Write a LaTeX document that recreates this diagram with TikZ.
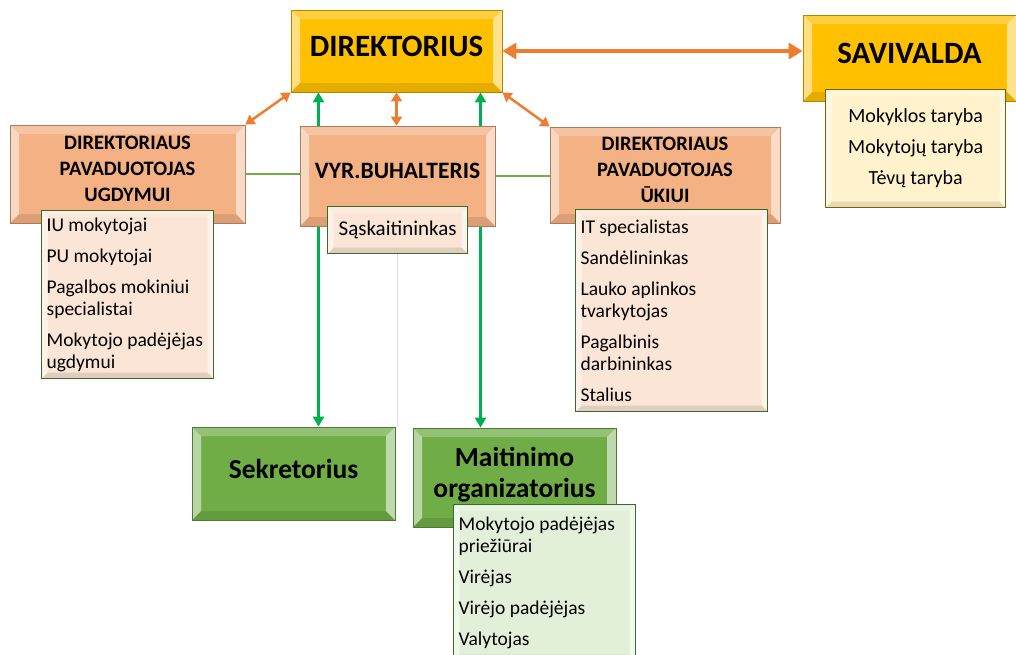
\documentclass[tikz,border=0pt]{standalone}
\usepackage{fontspec}
\setmainfont{Carlito}
\usetikzlibrary{arrows.meta, backgrounds}
\definecolor{dirgold}{HTML}{FFC000}
\definecolor{salmon}{HTML}{F4B183}
\definecolor{peach}{HTML}{FBE5D6}
\definecolor{leafgreen}{HTML}{70AD47}
\definecolor{mint}{HTML}{E2F0D9}
\definecolor{cream}{HTML}{FFF2CC}
\definecolor{listgreen}{HTML}{3A6B24}
\definecolor{olive}{HTML}{7F6000}
\definecolor{arrorange}{HTML}{ED7D31}
\definecolor{arrgreen}{HTML}{00B050}
\tikzset{
	bevel/.style = {path picture={
		\fill[white, fill opacity=0.5] (path picture bounding box.north west) -- ([shift={(#1,-#1)}]path picture bounding box.north west) -- ([shift={(#1,#1)}]path picture bounding box.south west) -- (path picture bounding box.south west) -- cycle;
		\fill[white, fill opacity=0.55] (path picture bounding box.north east) -- ([shift={(-#1,-#1)}]path picture bounding box.north east) -- ([shift={(-#1,#1)}]path picture bounding box.south east) -- (path picture bounding box.south east) -- cycle;
		\fill[white, fill opacity=0.25] (path picture bounding box.north west) -- ([shift={(#1,-#1)}]path picture bounding box.north west) -- ([shift={(-#1,-#1)}]path picture bounding box.north east) -- (path picture bounding box.north east) -- cycle;
		\fill[black, fill opacity=0.1] (path picture bounding box.south west) -- ([shift={(#1,#1)}]path picture bounding box.south west) -- ([shift={(-#1,#1)}]path picture bounding box.south east) -- (path picture bounding box.south east) -- cycle;
	}},
	bevel/.default = 9pt,
	unitbox/.style = {draw, line width=0.8pt, inner sep=2pt, align=center, text depth=10pt, bevel},
	topbox/.style = {unitbox, fill=dirgold, draw=dirgold!70!black, font=\fontsize{31}{35}\selectfont\bfseries},
	deputybox/.style = {unitbox, fill=salmon, draw=salmon!70!black, font=\fontsize{20.5}{26}\selectfont\bfseries},
	servicebox/.style = {unitbox, fill=leafgreen, draw=leafgreen!70!black, font=\fontsize{27.5}{31}\selectfont\bfseries},
	staffbox/.style = {draw=listgreen, line width=1.3pt, anchor=north west, align=flush left, inner xsep=5pt, inner ysep=4pt, font=\fontsize{19.5}{22}\selectfont, bevel=6pt}
}
\begin{document}
\begin{tikzpicture}[x=1pt, y=-1pt,
		bigarrow/.style = {draw=arrorange, line width=4pt, {Triangle[length=14pt, width=16pt]}-{Triangle[length=14pt, width=16pt]}},
		orarrow/.style = {draw=arrorange, line width=2.5pt, {Triangle[length=9pt, width=11pt]}-{Triangle[length=9pt, width=11pt]}},
		grarrow/.style = {draw=arrgreen, line width=2.6pt, {Triangle[length=10pt, width=11pt]}-{Triangle[length=10pt, width=11pt]}},
		link/.style = {draw=leafgreen, line width=1.3pt},
		faintline/.style = {draw=black!12, line width=0.6pt}
	]
	\useasboundingbox (0,0) rectangle (1016,654);
	% top level
	\node [topbox, minimum width=211pt, minimum height=82pt] (dir) at (396.5,51) {DIREKTORIUS};
	\node [topbox, minimum width=213pt, minimum height=86pt] (sav) at (909.5,58) {SAVIVALDA};
	\node [staffbox, draw=olive, fill=cream, align=center, minimum width=180pt, minimum height=118pt, font=\fontsize{20}{22}\selectfont] (savl) at (825,89)
		{Mokyklos taryba\\[9pt]Mokytojų taryba\\[9pt]Tėvų taryba};
	% deputies
	\node [deputybox, minimum width=235pt, minimum height=98pt] (pug) at (127.5,174) {DIREKTORIAUS\\PAVADUOTOJAS\\UGDYMUI};
	\node [deputybox, minimum width=195pt, minimum height=100pt, font=\fontsize{23.5}{28}\selectfont\bfseries] (buh) at (397.5,176) {VYR.BUHALTERIS};
	\node [deputybox, minimum width=230pt, minimum height=96pt] (puk) at (665,175) {DIREKTORIAUS\\PAVADUOTOJAS\\ŪKIUI};
	\node [staffbox, fill=peach, minimum width=172pt, minimum height=168pt, text width=162pt] (ugl) at (41,210)
		{IU mokytojai\\[9pt]PU mokytojai\\[9pt]Pagalbos mokiniui\\specialistai\\[9pt]Mokytojo padėjėjas\\ugdymui};
	\node [staffbox, fill=peach, align=center, minimum width=140pt, minimum height=47pt, font=\fontsize{21}{24}\selectfont] (sask) at (327,206) {Sąskaitininkas};
	\node [staffbox, fill=peach, minimum width=192pt, minimum height=202pt, text width=182pt] (ukl) at (575,209)
		{IT specialistas\\[9pt]Sandėlininkas\\[9pt]Lauko aplinkos\\tvarkytojas\\[9pt]Pagalbinis\\darbininkas\\[9pt]Stalius};
	% service
	\node [servicebox, minimum width=203pt, minimum height=93pt] (sek) at (293.5,473.5) {Sekretorius};
	\node [servicebox, minimum width=203pt, minimum height=99pt] (mait) at (514.5,477.5) {Maitinimo\\organizatorius};
	\node [staffbox, fill=mint, minimum width=182pt, minimum height=156pt, text width=172pt] (maitl) at (453,504)
		{Mokytojo padėjėjas\\priežiūrai\\[9pt]Virėjas\\[9pt]Virėjo padėjėjas\\[9pt]Valytojas};
	% connectors
	\begin{scope}[on background layer]
		\draw [bigarrow] (dir.east) -- (dir.east -| sav.west);
		\draw [orarrow] (dir.south west) -- (pug.north east);
		\draw [orarrow] (dir.south) -- (dir.south |- buh.north);
		\draw [orarrow] (dir.south east) -- (puk.north west);
		\draw [grarrow] ([xshift=-78pt]dir.south) -- ([xshift=-78pt]dir.south |- sek.north);
		\draw [grarrow] ([xshift=84pt]dir.south) -- ([xshift=84pt]dir.south |- mait.north);
		\draw [link] (pug.east) -- (pug.east -| buh.west);
		\draw [link] (buh.east) -- (buh.east -| puk.west);
		\draw [faintline] (sask.south) -- (sask.south |- sek.north);
	\end{scope}
\end{tikzpicture}
\end{document}
